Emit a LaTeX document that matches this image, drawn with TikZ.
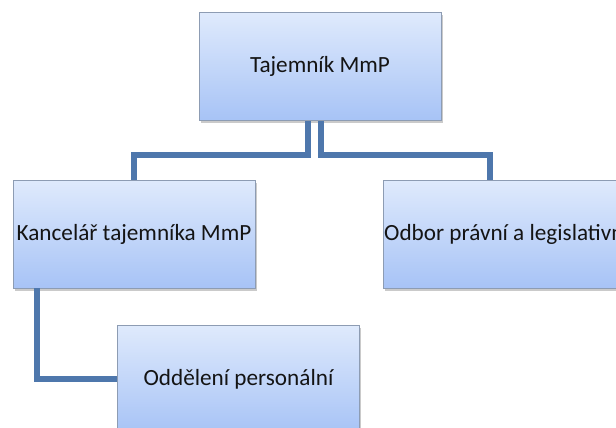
\documentclass[tikz,border=0pt]{standalone}
\usepackage{fontspec}
\setmainfont{Carlito}
\usetikzlibrary{shadows}
\definecolor{boxtop}{HTML}{DFEAFC}
\definecolor{boxbot}{HTML}{A7C3F6}
\definecolor{boxedge}{HTML}{8D9CB3}
\definecolor{linkc}{HTML}{4E77AC}
\definecolor{txt}{HTML}{141414}
\begin{document}
\begin{tikzpicture}[x=1pt,y=-1pt,
  orgfont/.style={font=\fontsize{23.2}{27}\selectfont},
  orgbox/.style={draw=boxedge, line width=0.8pt, top color=boxtop, bottom color=boxbot,
    minimum width=242pt, minimum height=108pt, inner sep=0pt, text=txt, orgfont,
    drop shadow={shadow xshift=1.5pt, shadow yshift=-2.5pt, opacity=0.35, fill=black!60}},
  link/.style={draw=linkc, line width=6pt}]
\useasboundingbox (0,0) rectangle (616,428);
\clip (0,0) rectangle (616,428);
\node[orgbox] (top) at (320,66.5) {Tajemník MmP};
\node[orgbox] (k) at (134,234) {Kancelář tajemníka MmP};
\node[orgbox] (o) at (504,234) {};
\node[anchor=west, text=txt, orgfont, inner sep=0pt] (otext) at (384,234) {Odbor právní a legislativní};
\node[orgbox] (p) at (238.5,379) {Oddělení personální};
\coordinate (lj) at (308,155);
\coordinate (rj) at (320.5,155);
\coordinate (rd) at (490,180);
\draw[link] (top.south -| lj) -- (lj) -| (k.north);
\draw[link] (top.south -| rj) -- (rj) -| (rd);
\draw[link] ([xshift=24pt]k.south west) |- (p.west);
\end{tikzpicture}
\end{document}
